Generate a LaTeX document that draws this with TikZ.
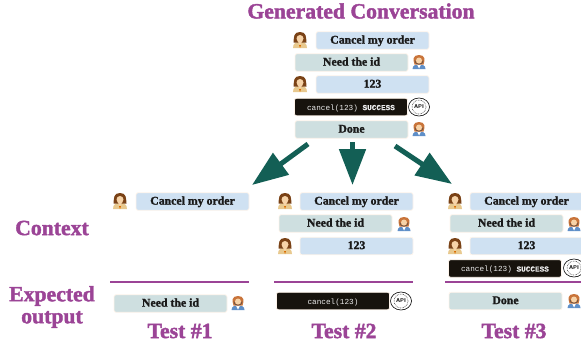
\documentclass[tikz,border=0pt]{standalone}
\usepackage{fontspec}
\setmainfont{Liberation Serif}[BoldFeatures={FakeBold=1.8}]
\setmonofont{Liberation Mono}[BoldFeatures={FakeBold=0.3}]
\usetikzlibrary{arrows.meta}
\definecolor{userblue}{HTML}{CFE1F2}
\definecolor{agentgrey}{HTML}{CEDFE0}
\definecolor{toolblack}{HTML}{17130D}
\definecolor{headpurple}{HTML}{9B4496}
\definecolor{arrowgreen}{HTML}{135F55}
\definecolor{hairbrown}{HTML}{7A4216}
\definecolor{skintone}{HTML}{F6D3A8}
\definecolor{coattan}{HTML}{E8C98F}
\definecolor{headsetblue}{HTML}{5F8FC8}
\definecolor{hairorange}{HTML}{C9743A}
\tikzset{
msgbox/.style={rounded corners=2pt,draw=black!5!orange!8,line width=0.8pt,minimum width=113pt,minimum height=17.5pt,inner sep=0pt,text height=7.6pt,text depth=1.4pt,text=black!90,font=\fontsize{11.8}{12}\selectfont\bfseries},
userbox/.style={msgbox,fill=userblue},
agentbox/.style={msgbox,fill=agentgrey},
toolbox/.style={msgbox,fill=toolblack,text=white!92!black,font=\fontsize{7.7}{9}\selectfont\ttfamily},
headtext/.style={text=headpurple,align=center,font=\fontsize{21.7}{23}\selectfont\bfseries},
splitrule/.style={draw=headpurple,line width=2.8pt},
splitarrow/.style={draw=arrowgreen,fill=arrowgreen,line width=5pt,-{Triangle[length=36pt,width=26pt]}},
usericon/.pic={
\fill[coattan](-7,8)..controls(-7,3)and(-4,2)..(0,2)..controls(4,2)and(7,3)..(7,8)--cycle;
\fill[hairbrown](0,-8)..controls(-6.5,-8)and(-6,-3)..(-6.5,2.5)--(6.5,2.5)..controls(6,-3)and(6.5,-8)..(0,-8)--cycle;
\fill[skintone](0,-1.5)circle(3.5);
\fill[skintone](-2.5,1)--(2.5,1)--(0,5)--cycle;
\fill[orange!85!black](-1,5)--(1,5)--(0,8)--cycle;
},
agenticon/.pic={
\fill[headsetblue](-6.5,7)..controls(-6.5,3)and(-3,2.5)..(0,2.5)..controls(3,2.5)and(6.5,3)..(6.5,7)--cycle;
\fill[white](-2,2.5)--(2,2.5)--(0,6.5)--cycle;
\fill[hairorange](0,-7)..controls(-6.5,-7)and(-6,-2)..(-4.5,2.5)--(4.5,2.5)..controls(6,-2)and(6.5,-7)..(0,-7)--cycle;
\fill[skintone](0,-1.5)circle(3);
\draw[black!70,line width=0.5pt](-4.2,-1.5)arc(180:360:4.2 and -3.8);
},
apiicon/.pic={
\draw[black,line width=0.6pt,fill=white](0,0)ellipse(10.5pt and 9pt);
\draw[black!80,line width=0.6pt,densely dotted](0,0)circle(7pt);
\node[inner sep=0pt,font=\fontsize{5.6}{6}\selectfont\sffamily\bfseries] at (0,0){API};
}
}
\begin{document}
\begin{tikzpicture}[x=1pt,y=-1pt]
\useasboundingbox(0,0)rectangle(581,349);
%generated conversation
\node[headtext](title)at(361,11){Generated Conversation};
\pic at(300,40){usericon};
\node[userbox](gOne)at(372.5,40.5){Cancel my order};
\node[agentbox](gTwo)at(351.5,62.5){Need the id};
\pic at(419,62){agenticon};
\pic at(300,84){usericon};
\node[userbox](gThree)at(372.5,84.5){123};
\node[toolbox](gFour)at(351,107){cancel(123) \textbf{SUCCESS}};
\pic at(419,107){apiicon};
\node[agentbox](gFive)at(351.5,129.5){Done};
\pic at(419,129){agenticon};
%row labels
\node[headtext](context)at(52,228){Context};
\node[headtext](expected)at(52,307){Expected\\[-1pt]output};
%test 1
\pic at(120,201){usericon};
\node[userbox](aOne)at(192.5,201.5){Cancel my order};
\coordinate(aLeft)at(110,282);
\coordinate(aRight)at(249,282);
\draw[splitrule](aLeft)--(aRight);
\node[agentbox](aOut)at(170.5,303.5){Need the id};
\pic at(238,303){agenticon};
\node[headtext](aName)at(180,331){Test \#1};
%test 2
\pic at(285,201){usericon};
\node[userbox](bOne)at(356.5,201.5){Cancel my order};
\node[agentbox](bTwo)at(335.5,223.5){Need the id};
\pic at(404,224){agenticon};
\pic at(285,246){usericon};
\node[userbox](bThree)at(356.5,246){123};
\coordinate(bLeft)at(274,282);
\coordinate(bRight)at(413,282);
\draw[splitrule](bLeft)--(bRight);
\node[toolbox](bOut)at(333,301){cancel(123)};
\pic at(401,301){apiicon};
\node[headtext](bName)at(344,331){Test \#2};
%test 3
\pic at(455,201){usericon};
\node[userbox](cOne)at(526.5,201.5){Cancel my order};
\node[agentbox](cTwo)at(506.5,223.5){Need the id};
\pic at(574,224){agenticon};
\pic at(455,246){usericon};
\node[userbox](cThree)at(526.5,246){123};
\node[toolbox](cFour)at(505,268.5){cancel(123) \textbf{SUCCESS}};
\pic at(574,268){apiicon};
\coordinate(cLeft)at(445,282);
\coordinate(cRight)at(581,282);
\draw[splitrule](cLeft)--(cRight);
\node[agentbox](cOut)at(505.5,301){Done};
\pic at(574,301){agenticon};
\node[headtext](cName)at(514,331){Test \#3};
%arrows
\coordinate(leftStart)at(308,144);
\coordinate(leftEnd)at(252,185);
\coordinate(midStart)at(352.5,142);
\coordinate(midEnd)at(352.5,185);
\coordinate(rightStart)at(395,146);
\coordinate(rightEnd)at(452,184);
\draw[splitarrow](leftStart)--(leftEnd);
\draw[splitarrow](midStart)--(midEnd);
\draw[splitarrow](rightStart)--(rightEnd);
\end{tikzpicture}
\end{document}
